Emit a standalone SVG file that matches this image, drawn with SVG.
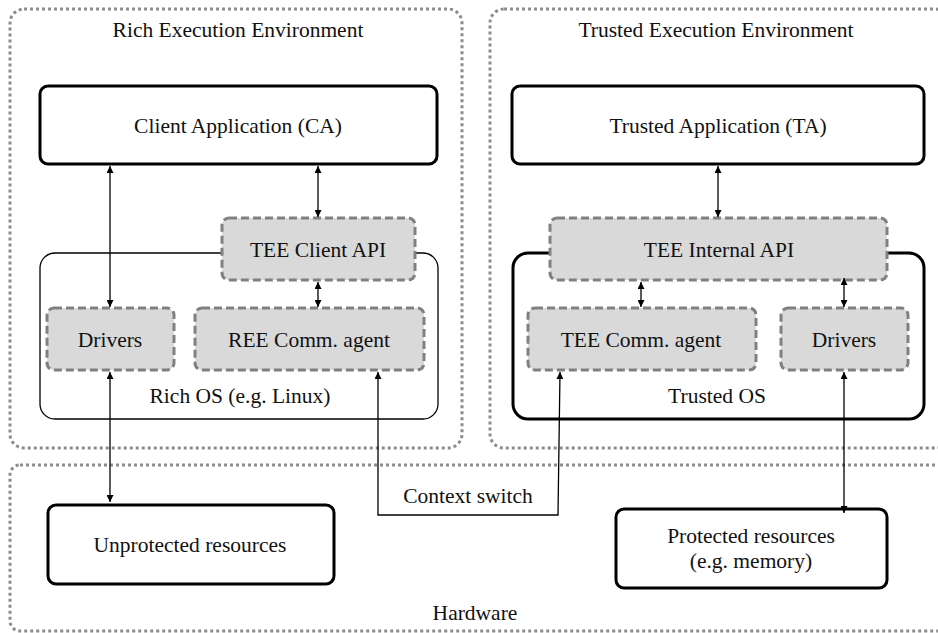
<svg xmlns="http://www.w3.org/2000/svg" width="938" height="633" viewBox="0 0 938 633">
<defs>
<marker id="ah" viewBox="0 0 10 10" refX="10" refY="5" markerWidth="7" markerHeight="7" markerUnits="userSpaceOnUse" orient="auto-start-reverse">
<path d="M0,0 L10,5 L0,10 z" fill="#000"/>
</marker>
<style>
text{font-family:"Liberation Serif","Times New Roman",serif;font-size:21.5px;fill:#111;text-anchor:middle}
.env{fill:none;stroke:#8c8c8c;stroke-width:3;stroke-dasharray:3 3}
.bold{fill:#fff;stroke:#000;stroke-width:3}
.thin{fill:#fff;stroke:#000;stroke-width:1.3}
.dash{fill:#d9d9d9;stroke:#808080;stroke-width:3;stroke-dasharray:8 4}
.conn{fill:none;stroke:#000;stroke-width:1.3}
</style>
</defs>
<rect width="938" height="633" fill="#fff"/>
<g id="ree"><rect class="env" x="10" y="9" width="452" height="439" rx="14"/><text x="238" y="37">Rich Execution Environment</text></g>
<g id="tee"><rect class="env" x="490" y="9" width="460" height="439" rx="14"/><text x="716" y="37">Trusted Execution Environment</text></g>
<g id="hardware"><rect class="env" x="10" y="465" width="940" height="166" rx="10"/><text x="475" y="620">Hardware</text></g>
<g id="rich-os"><rect class="thin" x="40" y="253" width="398" height="166" rx="15"/><text x="240" y="403">Rich OS (e.g. Linux)</text></g>
<g id="trusted-os"><rect class="bold" x="513" y="253" width="411" height="166" rx="15"/><text x="717" y="403">Trusted OS</text></g>
<g id="ca"><rect class="bold" x="40" y="86" width="397" height="78" rx="8"/><text x="238" y="133">Client Application (CA)</text></g>
<g id="ta"><rect class="bold" x="512" y="86" width="412" height="78" rx="8"/><text x="718" y="133">Trusted Application (TA)</text></g>
<g id="tee-client-api"><rect class="dash" x="222" y="218" width="193" height="62" rx="7"/><text x="318" y="257">TEE Client API</text></g>
<g id="tee-internal-api"><rect class="dash" x="550" y="218" width="337" height="62" rx="7"/><text x="719" y="257">TEE Internal API</text></g>
<g id="ree-drivers"><rect class="dash" x="47" y="308" width="127" height="62" rx="7"/><text x="110" y="347">Drivers</text></g>
<g id="ree-comm"><rect class="dash" x="195" y="308" width="229" height="62" rx="7"/><text x="309" y="347">REE Comm. agent</text></g>
<g id="tee-comm"><rect class="dash" x="528" y="308" width="228" height="62" rx="7"/><text x="641" y="347">TEE Comm. agent</text></g>
<g id="tee-drivers"><rect class="dash" x="781" y="308" width="127" height="62" rx="7"/><text x="844" y="347">Drivers</text></g>
<g id="unprotected"><rect class="bold" x="48" y="505" width="286" height="79" rx="8"/><text x="190" y="552">Unprotected resources</text></g>
<g id="protected"><rect class="bold" x="616" y="509" width="271" height="79" rx="8"/><text x="751" y="543">Protected resources</text><text x="751" y="568">(e.g. memory)</text></g>
<g id="connectors">
<line class="conn" x1="110" y1="166" x2="110" y2="307" marker-start="url(#ah)" marker-end="url(#ah)"/>
<line class="conn" x1="318" y1="166" x2="318" y2="217" marker-start="url(#ah)" marker-end="url(#ah)"/>
<line class="conn" x1="318" y1="282" x2="318" y2="307" marker-start="url(#ah)" marker-end="url(#ah)"/>
<line class="conn" x1="718" y1="166" x2="718" y2="217" marker-start="url(#ah)" marker-end="url(#ah)"/>
<line class="conn" x1="641" y1="282" x2="641" y2="307" marker-start="url(#ah)" marker-end="url(#ah)"/>
<line class="conn" x1="844" y1="278" x2="844" y2="307" marker-start="url(#ah)" marker-end="url(#ah)"/>
<line class="conn" x1="110" y1="372" x2="110" y2="502" marker-start="url(#ah)" marker-end="url(#ah)"/>
<line class="conn" x1="844" y1="372" x2="844" y2="513" marker-start="url(#ah)" marker-end="url(#ah)"/>
<polyline class="conn" points="378,372 378,515 558,515 560,372" marker-start="url(#ah)" marker-end="url(#ah)"/>
<text x="468" y="503">Context switch</text>
</g>
</svg>
